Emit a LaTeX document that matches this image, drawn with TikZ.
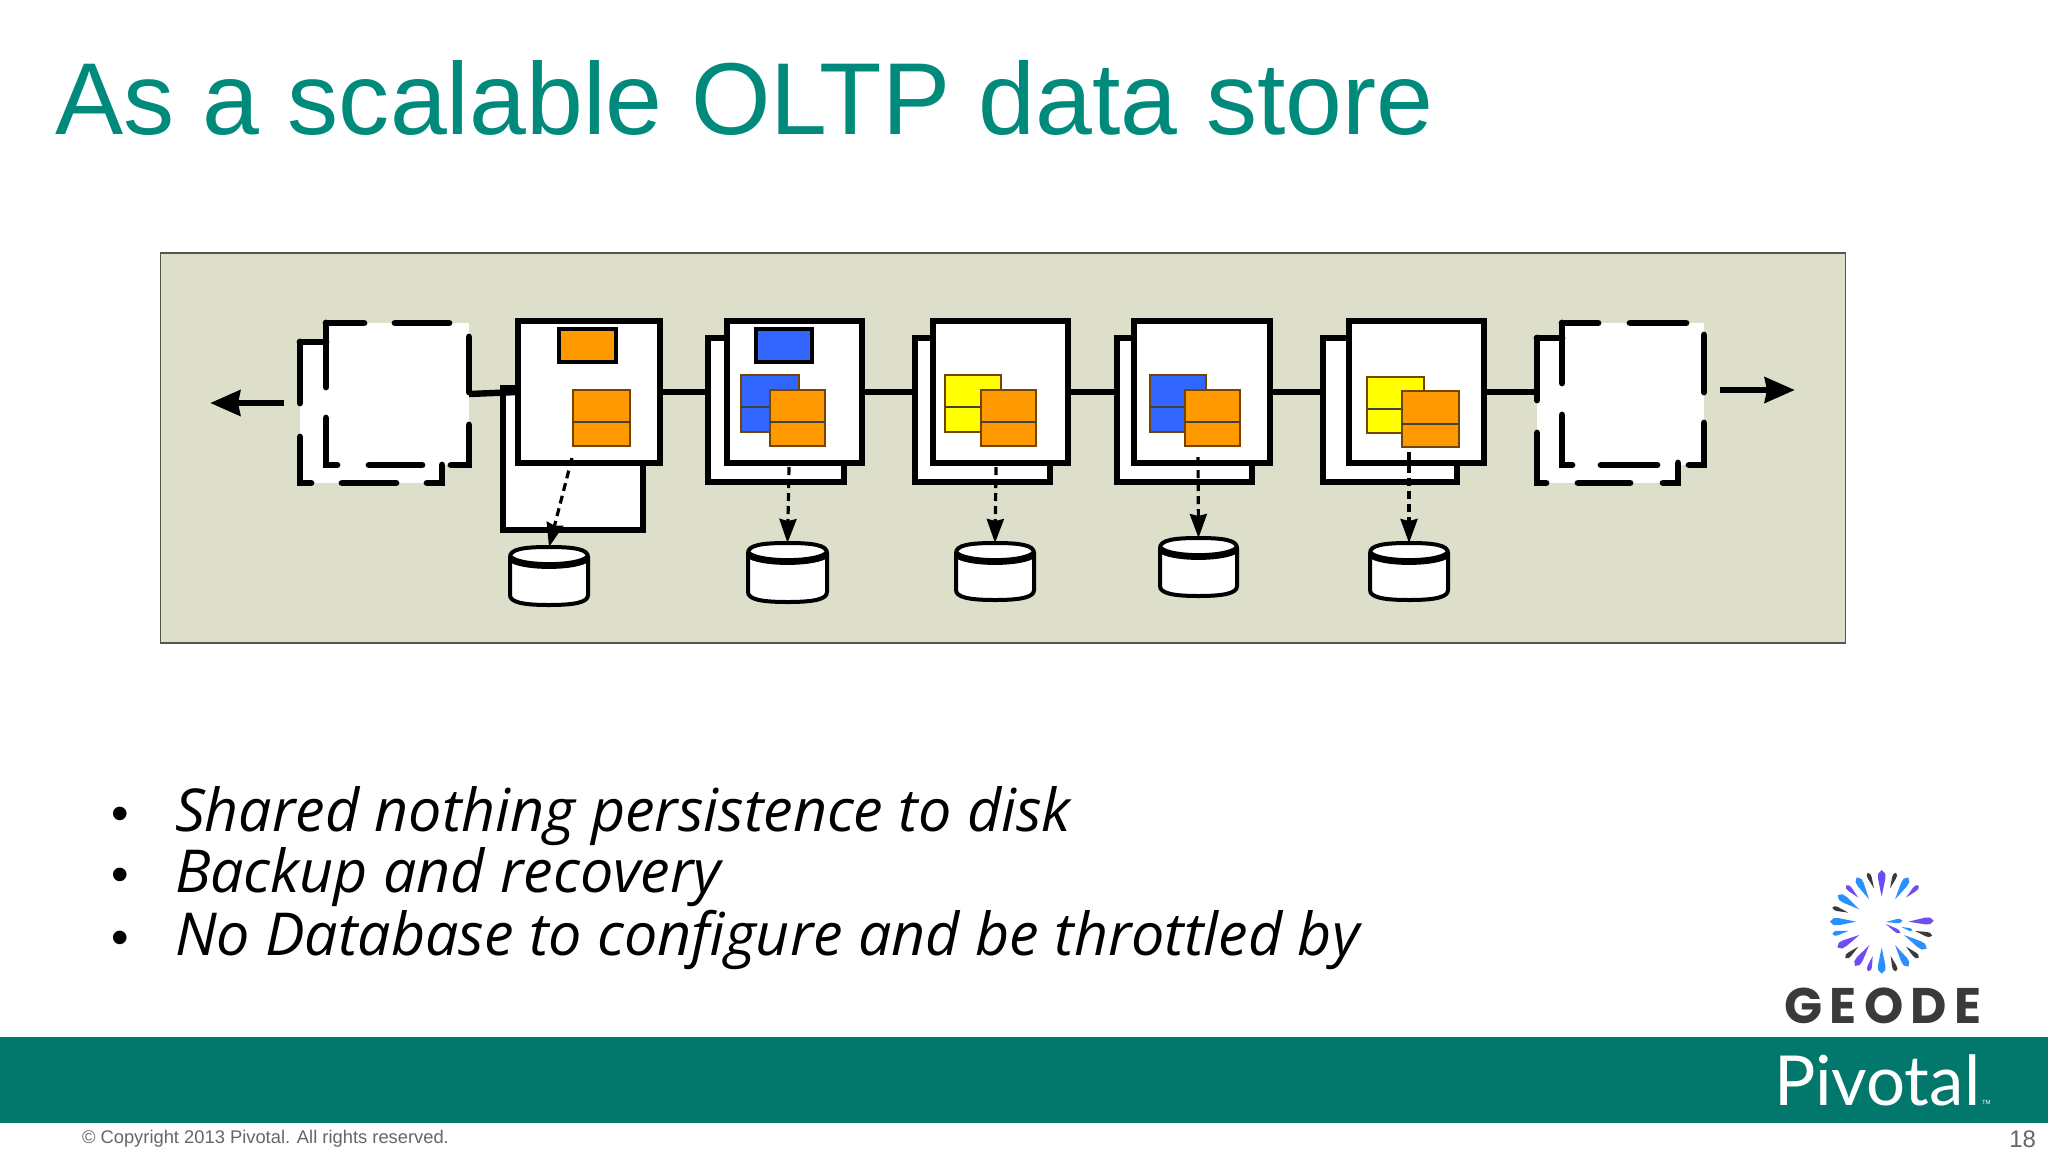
\documentclass[tikz,border=0pt]{standalone}
\usepackage{fontspec}
\setmainfont{Liberation Sans}
\newfontfamily\handfont{Open Sans}
\newfontfamily\logofont[LetterSpace=15]{Poppins}
\newfontfamily\pivfont{Lato}
\usetikzlibrary{arrows.meta,calc}
\definecolor{titleteal}{HTML}{008A7C}
\definecolor{bandteal}{HTML}{02776B}
\definecolor{panelbg}{HTML}{DDDFCA}
\definecolor{panelline}{HTML}{55574C}
\definecolor{cellorange}{HTML}{FF9900}
\definecolor{cellblue}{HTML}{3366FF}
\definecolor{cellyellow}{HTML}{FFFF00}
\definecolor{logopurple}{HTML}{6F4DF0}
\definecolor{logoblue}{HTML}{2A90FF}
\definecolor{logodark}{HTML}{3A3A3C}
\tikzset{
  x=0.5pt,y=-0.5pt,
  pxbox/.style={rectangle,inner sep=0pt,outer sep=0pt},
  server/.style={pxbox,draw=black,fill=white,line width=3.2pt,line join=miter},
  ghost/.style={pxbox,fill=white},
  wire/.style={draw=black,line width=3.2pt},
  dashseg/.style={draw=black,line width=3.4pt,line cap=round},
  bigarrow/.style={draw=black,line width=3.4pt,-{Stealth[length=15pt,width=12.5pt,inset=1pt]}},
  flow/.style={draw=black,line width=1.6pt,dash pattern=on 4pt off 2.5pt,-{Stealth[length=12pt,width=8.5pt,inset=1pt]}},
  smallcell/.style={pxbox,draw=black,line width=1.8pt},
  bigcell/.style={pxbox,draw=black!55!cellorange,line width=0.7pt},
  divider/.style={draw=black!75,line width=1pt},
  txt/.style={inner sep=0pt,outer sep=0pt,anchor=base west},
}
% #1 style, #2 name, #3-#6 x1 y1 x2 y2
\newcommand{\pxnode}[6]{\node[#1,minimum width={(#5-#3)*0.5pt},minimum height={(#6-#4)*0.5pt}] (#2) at ({(#3+#5)/2},{(#4+#6)/2}) {};}
% cell with a divider line
\newcommand{\cell}[7]{\pxnode{bigcell,fill=#2}{#1}{#3}{#4}{#5}{#6}\draw[divider] (#3,#7) -- (#5,#7);}
% disk: #1 name, #2-#5 x1 y1 x2 y2
\newcommand{\disk}[5]{%
  \coordinate (#1) at ({(#2+#4)/2},#3);
  \filldraw[fill=white,draw=black,line width=2pt]
    (#2,#3+10) -- (#2,#5-10) .. controls (#2,#5-3) and (#2+12,#5) .. ({(#2+#4)/2},#5)
    .. controls (#4-12,#5) and (#4,#5-3) .. (#4,#5-10) -- (#4,#3+10)
    .. controls (#4,#3+2) and (#4-14,#3) .. ({(#2+#4)/2},#3)
    .. controls (#2+14,#3) and (#2,#3+2) .. (#2,#3+10) -- cycle;
  \draw[black,line width=3.4pt] (#2,#3+11) .. controls (#2+10,#3+21) and (#4-10,#3+21) .. (#4,#3+11);
}
% logo petal: #1-#4 ends in zoom units, #5 half width, #6 colour
\newcommand{\petal}[6]{%
  \pgfmathsetmacro{\pang}{atan2(-(#4-#2),#3-#1)}%
  \pgfmathsetmacro{\plen}{veclen(#3-#1,#4-#2)/6}%
  \fill[#6,shift={({1740+#1/3},{850+#2/3})},rotate=\pang]
    (0pt,0pt) -- ({\plen*0.66 pt},{#5/4.5 pt}) -- ({\plen*0.86 pt},{#5/4.5 pt}) -- (\plen pt,0pt)
    -- ({\plen*0.86 pt},{-#5/4.5 pt}) -- ({\plen*0.66 pt},{-#5/4.5 pt}) -- cycle;
}
\begin{document}
\begin{tikzpicture}
\useasboundingbox (0,0) rectangle (2048,1152);
\fill[white] (0,0) rectangle (2048,1152);

\node[txt,text=titleteal,font=\fontsize{51.1}{51.1}\selectfont] (title) at (55,134) {As a scalable OLTP data store};

% panel
\pxnode{pxbox,fill=panelbg,draw=panelline,line width=0.9pt}{panel}{160.5}{253}{1845.5}{643}

% ghost servers (fills)
\pxnode{ghost}{lback}{300}{342}{442}{483}
\pxnode{ghost}{lfront}{326}{323}{469}{465}
\pxnode{ghost}{rback}{1537}{338}{1678}{483}
\pxnode{ghost}{rfront}{1562}{323}{1704}{465}

% servers, backs
\pxnode{server}{b1b}{503}{388}{643}{530}
\pxnode{server}{b2b}{708}{338}{844}{482}
\pxnode{server}{b3b}{915}{338}{1050}{482}
\pxnode{server}{b4b}{1117}{338}{1252}{482}
\pxnode{server}{b5b}{1323}{338}{1457}{482}

% servers, fronts
\pxnode{server}{b1}{518}{321}{660}{463}
\pxnode{server}{b2}{727}{321}{862}{463}
\pxnode{server}{b3}{933}{321}{1068}{463}
\pxnode{server}{b4}{1134}{321}{1270}{463}
\pxnode{server}{b5}{1349}{321}{1484}{463}

% wires
\draw[wire] (lfront.east) -- (b1.west);
\draw[wire] (b1.east) -- (b2b.west |- b1.east);
\draw[wire] (b2.east) -- (b3b.west |- b2.east);
\draw[wire] (b3.east) -- (b4b.west |- b3.east);
\draw[wire] (b4.east) -- (b5b.west |- b4.east);
\draw[wire] (b5.east) -- (rback.west |- b5.east);

% left ghost dashes
\draw[dashseg] (300,342) -- (326,342);
\draw[dashseg] (300,342) -- (300,403) (300,437) -- (300,483) -- (311,483);
\draw[dashseg] (342,483) -- (396,483) (427,483) -- (442,483) -- (442,465);
\draw[dashseg] (326,323) -- (364,323) (395,323) -- (449,323);
\draw[dashseg] (469,337) -- (469,392) (469,425) -- (469,465) -- (451,465);
\draw[dashseg] (422,465) -- (369,465) (337,465) -- (326,465) -- (326,418) (326,387) -- (326,323);

% right ghost dashes
\draw[dashseg] (1537,338) -- (1562,338);
\draw[dashseg] (1537,338) -- (1537,400) (1537,433) -- (1537,483) -- (1546,483);
\draw[dashseg] (1578,483) -- (1630,483) (1663,483) -- (1678,483) -- (1678,463);
\draw[dashseg] (1562,323) -- (1598,323) (1630,323) -- (1686,323);
\draw[dashseg] (1704,335) -- (1704,392) (1704,423) -- (1704,465) -- (1689,465);
\draw[dashseg] (1657,465) -- (1601,465) (1572,465) -- (1562,465) -- (1562,415) (1562,383) -- (1562,323);

% outward arrows
\coordinate (ltail) at (284,403);
\coordinate (ltip) at (210,403);
\coordinate (rtail) at (1720,390);
\coordinate (rtip) at (1795,390);
\draw[bigarrow] (ltail) -- (ltip);
\draw[bigarrow] (rtail) -- (rtip);

% cells
\pxnode{smallcell,fill=cellorange}{s1}{559}{329}{616}{362}
\cell{o1}{cellorange}{573}{390}{630}{446}{422}

\pxnode{smallcell,fill=cellblue}{s2}{756}{329}{812}{362}
\cell{p2}{cellblue}{741}{375}{799}{432}{407}
\cell{o2}{cellorange}{770}{390}{825}{446}{422}

\cell{p3}{cellyellow}{945}{375}{1001}{432}{407}
\cell{o3}{cellorange}{981}{390}{1036}{446}{422}

\cell{p4}{cellblue}{1150}{375}{1206}{432}{407}
\cell{o4}{cellorange}{1185}{390}{1240}{446}{422}

\cell{p5}{cellyellow}{1367}{377}{1424}{433}{409}
\cell{o5}{cellorange}{1402}{391}{1459}{447}{424}

% disks
\disk{d1}{510}{547}{588}{605}
\disk{d2}{748}{543}{827}{602}
\disk{d3}{956}{543}{1034}{600}
\disk{d4}{1160}{538}{1237}{596}
\disk{d5}{1370}{543}{1448}{600}

% persistence arrows
\coordinate (f1) at (572,458);
\coordinate (f2) at (789,467);
\coordinate (f3) at (996,467);
\coordinate (f4) at (1198,457);
\coordinate (f5) at (1409,452);
\draw[flow] (f1) -- (d1);
\draw[flow] (f2) -- (d2);
\draw[flow] (f3) -- (d3);
\draw[flow] (f4) -- (d4);
\draw[flow] (f5) -- (d5);

% bullets
\node[txt,font=\fontsize{25}{25}\selectfont] (bu1) at (111,830) {•};
\node[txt,font=\fontsize{25}{25}\selectfont] (bu2) at (111,891) {•};
\node[txt,font=\fontsize{25}{25}\selectfont] (bu3) at (111,954) {•};
\node[txt,font=\handfont\itshape\fontsize{29.6}{29.6}\selectfont] (t1) at (175,831) {Shared nothing persistence to disk};
\node[txt,font=\handfont\itshape\fontsize{29.6}{29.6}\selectfont] (t2) at (175,892) {Backup and recovery};
\node[txt,font=\handfont\itshape\fontsize{29.6}{29.6}\selectfont] (t3) at (175,955) {No Database to configure and be throttled by};

% band
\pxnode{pxbox,fill=bandteal}{band}{0}{1037}{2048}{1123}
\node[txt,text=white,font=\pivfont\fontsize{34.5}{34.5}\selectfont] (piv) at (1774,1105) {Pivotal};
\node[txt,text=white,font=\fontsize{3}{3}\selectfont] (tm) at (1982,1104) {TM};
\node[txt,text=black!60,font=\fontsize{9.17}{9.17}\selectfont] (copy) at (82,1143) {© Copyright 2013 Pivotal. All rights reserved.};
\node[inner sep=0pt,outer sep=0pt,anchor=base east,text=black!60,font=\fontsize{12}{12}\selectfont] (pg) at (2036,1147) {18};

% logo
\node[txt,text=logodark,font=\logofont\bfseries\fontsize{25}{25}\selectfont] (geode) at (1784,1023) {GEODE};
\petal{425}{140}{425}{60}{8}{logopurple}
\petal{402}{115}{383}{68}{4.5}{logodark}
\petal{450}{115}{468}{68}{4.5}{logodark}
\petal{387}{148}{350}{82}{7.5}{logoblue}
\petal{465}{148}{505}{82}{7.5}{logoblue}
\petal{355}{143}{318}{106}{5}{logopurple}
\petal{498}{143}{536}{106}{5}{logopurple}
\petal{358}{178}{293}{135}{7.5}{logoblue}
\petal{325}{188}{277}{172}{4.5}{logodark}
\petal{348}{215}{270}{215}{8}{logoblue}
\petal{325}{243}{277}{252}{5}{logoblue}
\petal{358}{255}{292}{292}{7.5}{logopurple}
\petal{355}{290}{316}{324}{5}{logodark}
\petal{388}{285}{345}{348}{7.5}{logopurple}
\petal{398}{318}{385}{364}{5}{logopurple}
\petal{425}{292}{425}{371}{8}{logoblue}
\petal{452}{318}{468}{364}{5}{logodark}
\petal{465}{285}{505}{350}{7.5}{logoblue}
\petal{498}{290}{536}{324}{5}{logodark}
\petal{492}{255}{560}{296}{7.5}{logoblue}
\petal{525}{243}{576}{257}{5}{logodark}
\petal{505}{215}{581}{212}{7.5}{logopurple}
\petal{437}{216}{487}{212}{4.5}{logoblue}
\petal{437}{222}{481}{249}{4}{logopurple}
\petal{484}{231}{517}{241}{3}{logoblue}
\end{tikzpicture}
\end{document}
